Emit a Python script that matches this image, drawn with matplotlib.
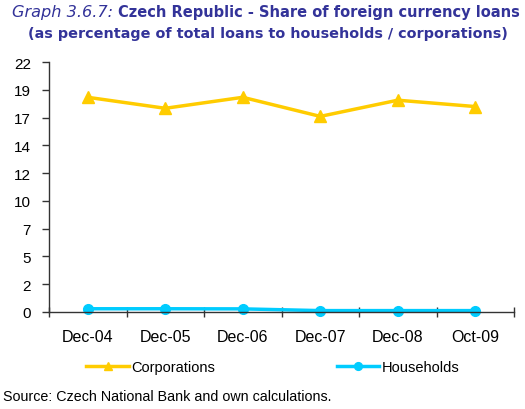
import matplotlib
matplotlib.use('Agg')
import matplotlib.pyplot as plt
import numpy as np

W, H = 525, 410

# data (percent)
periods = ['Dec-04', 'Dec-05', 'Dec-06', 'Dec-07', 'Dec-08', 'Oct-09']
corporations = [18.55, 17.6, 18.55, 16.9, 18.3, 17.75]
households = [0.28, 0.28, 0.27, 0.12, 0.12, 0.12]

YELLOW = '#FFCC00'
CYAN = '#00CCFF'
TITLE_BLUE = '#333399'

plt.rcParams['font.family'] = ['Liberation Sans', 'DejaVu Sans']


def px(x, y):
    return x / W, 1 - y / H


fig = plt.figure(figsize=(W / 100, H / 100), dpi=100)
ax = fig.add_axes([49 / W, 1 - 313 / H, (514 - 49) / W, (313 - 63) / H])

x = np.arange(len(periods))
ax.plot(x, corporations, color=YELLOW, lw=2.5, marker='^', ms=8,
        label='Corporations', clip_on=False)
ax.plot(x, households, color=CYAN, lw=2.5, marker='o', ms=7,
        label='Households', clip_on=False)

ax.set_xlim(-0.5, len(periods) - 0.5)
ax.set_ylim(0, 21.6)
yt = np.arange(0, 21.61, 2.4)
ax.set_yticks(yt)
ax.set_yticklabels([f'{v:.0f}' for v in yt])
ax.set_xticks(x)
ax.set_xticklabels(periods)
ax.set_xticks(np.arange(-0.5, len(periods)), minor=True)

for s in ('top', 'right'):
    ax.spines[s].set_visible(False)
for s in ('left', 'bottom'):
    ax.spines[s].set_color('#333333')
    ax.spines[s].set_linewidth(1.0)

ax.tick_params(axis='y', direction='out', length=5, width=1,
               color='#333333', labelsize=11, pad=8)
ax.tick_params(axis='x', which='major', length=0, labelsize=11.5, pad=12)
ax.tick_params(axis='x', which='minor', direction='inout', length=7,
               width=1, color='#333333')

# title, two lines, first part italic
fig.text(*px(113, 12), 'Graph 3.6.7:', ha='right', va='center',
         fontsize=11.6, style='italic', color=TITLE_BLUE,
         family=['DejaVu Sans'])
fig.text(*px(118, 12), 'Czech Republic - Share of foreign currency loans',
         ha='left', va='center', fontsize=10.5, weight='bold',
         color=TITLE_BLUE, family=['DejaVu Sans'])
fig.text(*px(268, 34), '(as percentage of total loans to households / corporations)',
         ha='center', va='center', fontsize=10.4, weight='bold',
         color=TITLE_BLUE, family=['DejaVu Sans'])

leg = fig.legend(loc='center', bbox_to_anchor=px(273, 368), ncol=2,
                 frameon=False, fontsize=10.5, handlelength=2.9,
                 columnspacing=8.3, handletextpad=0.2, markerscale=0.8)

fig.text(*px(3, 397), 'Source: Czech National Bank and own calculations.',
         ha='left', va='center', fontsize=10.3)

fig.savefig('out.png', dpi=100)
